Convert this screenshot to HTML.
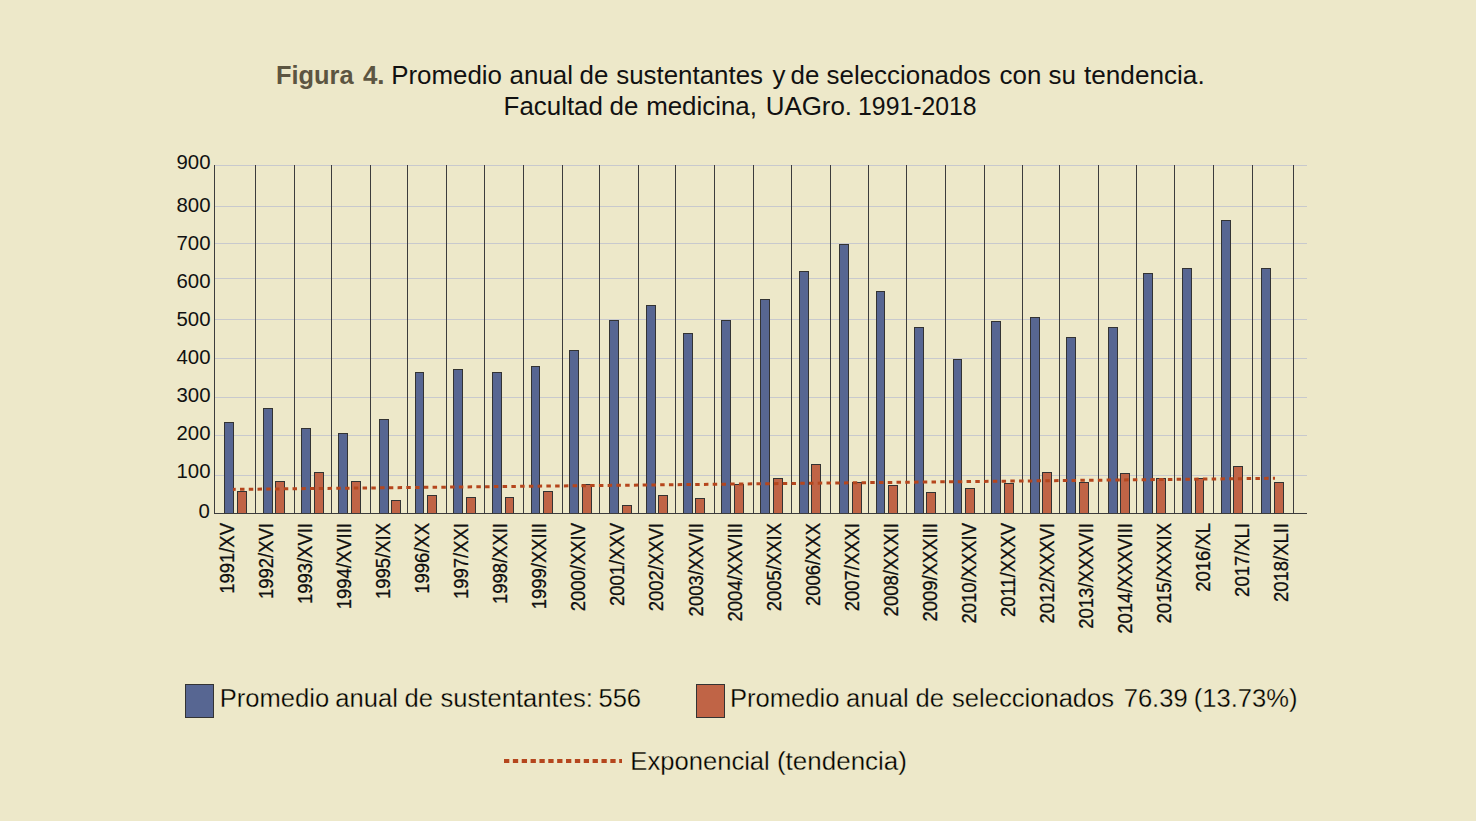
<!DOCTYPE html><html><head><meta charset="utf-8"><style>
html,body{margin:0;padding:0;}
body{width:1476px;height:821px;background:#ede8c9;position:relative;overflow:hidden;font-family:"Liberation Sans",sans-serif;color:#111111;}
.t{position:absolute;white-space:nowrap;}
.tt{position:absolute;font-size:25.9px;line-height:30px;white-space:nowrap;}
.yl{position:absolute;right:1265.95px;font-size:19.5px;line-height:20px;text-align:right;white-space:nowrap;transform:scaleX(1.045);transform-origin:100% 50%;}
.xl{position:absolute;font-size:18.1px;line-height:20px;white-space:nowrap;transform-origin:0 0;width:150px;text-align:right;transform:rotate(-90deg) scale(1.02,1.08);-webkit-text-stroke:0.25px #000;}
.lg{position:absolute;color:#000;font-size:25.6px;line-height:30px;white-space:nowrap;-webkit-text-stroke:0.3px #ede8c9;paint-order:fill stroke;}

</style></head><body>
<svg width="1476" height="821" viewBox="0 0 1476 821" style="position:absolute;left:0;top:0" shape-rendering="crispEdges"><line x1="214" y1="165.5" x2="1307" y2="165.5" stroke="#c8c9cd" stroke-width="1"/><line x1="214" y1="206.5" x2="1307" y2="206.5" stroke="#c8c9cd" stroke-width="1"/><line x1="214" y1="243.5" x2="1307" y2="243.5" stroke="#c8c9cd" stroke-width="1"/><line x1="214" y1="278.5" x2="1307" y2="278.5" stroke="#c8c9cd" stroke-width="1"/><line x1="214" y1="319.5" x2="1307" y2="319.5" stroke="#c8c9cd" stroke-width="1"/><line x1="214" y1="358.5" x2="1307" y2="358.5" stroke="#c8c9cd" stroke-width="1"/><line x1="214" y1="397.5" x2="1307" y2="397.5" stroke="#c8c9cd" stroke-width="1"/><line x1="214" y1="435.5" x2="1307" y2="435.5" stroke="#c8c9cd" stroke-width="1"/><line x1="214" y1="475.5" x2="1307" y2="475.5" stroke="#c8c9cd" stroke-width="1"/><line x1="214.5" y1="165" x2="214.5" y2="513" stroke="#3c3c3c" stroke-width="1"/><line x1="255.5" y1="165" x2="255.5" y2="513" stroke="#3c3c3c" stroke-width="1"/><line x1="294.5" y1="165" x2="294.5" y2="513" stroke="#3c3c3c" stroke-width="1"/><line x1="331.5" y1="165" x2="331.5" y2="513" stroke="#3c3c3c" stroke-width="1"/><line x1="370.5" y1="165" x2="370.5" y2="513" stroke="#3c3c3c" stroke-width="1"/><line x1="407.5" y1="165" x2="407.5" y2="513" stroke="#3c3c3c" stroke-width="1"/><line x1="446.5" y1="165" x2="446.5" y2="513" stroke="#3c3c3c" stroke-width="1"/><line x1="484.5" y1="165" x2="484.5" y2="513" stroke="#3c3c3c" stroke-width="1"/><line x1="523.5" y1="165" x2="523.5" y2="513" stroke="#3c3c3c" stroke-width="1"/><line x1="562.5" y1="165" x2="562.5" y2="513" stroke="#3c3c3c" stroke-width="1"/><line x1="599.5" y1="165" x2="599.5" y2="513" stroke="#3c3c3c" stroke-width="1"/><line x1="638.5" y1="165" x2="638.5" y2="513" stroke="#3c3c3c" stroke-width="1"/><line x1="675.5" y1="165" x2="675.5" y2="513" stroke="#3c3c3c" stroke-width="1"/><line x1="714.5" y1="165" x2="714.5" y2="513" stroke="#3c3c3c" stroke-width="1"/><line x1="753.5" y1="165" x2="753.5" y2="513" stroke="#3c3c3c" stroke-width="1"/><line x1="791.5" y1="165" x2="791.5" y2="513" stroke="#3c3c3c" stroke-width="1"/><line x1="830.5" y1="165" x2="830.5" y2="513" stroke="#3c3c3c" stroke-width="1"/><line x1="868.5" y1="165" x2="868.5" y2="513" stroke="#3c3c3c" stroke-width="1"/><line x1="906.5" y1="165" x2="906.5" y2="513" stroke="#3c3c3c" stroke-width="1"/><line x1="945.5" y1="165" x2="945.5" y2="513" stroke="#3c3c3c" stroke-width="1"/><line x1="984.5" y1="165" x2="984.5" y2="513" stroke="#3c3c3c" stroke-width="1"/><line x1="1022.5" y1="165" x2="1022.5" y2="513" stroke="#3c3c3c" stroke-width="1"/><line x1="1059.5" y1="165" x2="1059.5" y2="513" stroke="#3c3c3c" stroke-width="1"/><line x1="1098.5" y1="165" x2="1098.5" y2="513" stroke="#3c3c3c" stroke-width="1"/><line x1="1136.5" y1="165" x2="1136.5" y2="513" stroke="#3c3c3c" stroke-width="1"/><line x1="1174.5" y1="165" x2="1174.5" y2="513" stroke="#3c3c3c" stroke-width="1"/><line x1="1213.5" y1="165" x2="1213.5" y2="513" stroke="#3c3c3c" stroke-width="1"/><line x1="1252.5" y1="165" x2="1252.5" y2="513" stroke="#3c3c3c" stroke-width="1"/><line x1="1293.5" y1="165" x2="1293.5" y2="513" stroke="#3c3c3c" stroke-width="1"/><rect x="224.5" y="422.5" width="9" height="91" fill="#576692" stroke="#333333" stroke-width="1"/><rect x="263.5" y="408.5" width="9" height="105" fill="#576692" stroke="#333333" stroke-width="1"/><rect x="301.5" y="428.5" width="9" height="85" fill="#576692" stroke="#333333" stroke-width="1"/><rect x="338.5" y="433.5" width="9" height="80" fill="#576692" stroke="#333333" stroke-width="1"/><rect x="379.5" y="419.5" width="9" height="94" fill="#576692" stroke="#333333" stroke-width="1"/><rect x="415.5" y="372.5" width="8" height="141" fill="#576692" stroke="#333333" stroke-width="1"/><rect x="453.5" y="369.5" width="9" height="144" fill="#576692" stroke="#333333" stroke-width="1"/><rect x="492.5" y="372.5" width="9" height="141" fill="#576692" stroke="#333333" stroke-width="1"/><rect x="531.5" y="366.5" width="8" height="147" fill="#576692" stroke="#333333" stroke-width="1"/><rect x="569.5" y="350.5" width="9" height="163" fill="#576692" stroke="#333333" stroke-width="1"/><rect x="609.5" y="320.5" width="9" height="193" fill="#576692" stroke="#333333" stroke-width="1"/><rect x="646.5" y="305.5" width="9" height="208" fill="#576692" stroke="#333333" stroke-width="1"/><rect x="683.5" y="333.5" width="9" height="180" fill="#576692" stroke="#333333" stroke-width="1"/><rect x="721.5" y="320.5" width="9" height="193" fill="#576692" stroke="#333333" stroke-width="1"/><rect x="760.5" y="299.5" width="9" height="214" fill="#576692" stroke="#333333" stroke-width="1"/><rect x="799.5" y="271.5" width="9" height="242" fill="#576692" stroke="#333333" stroke-width="1"/><rect x="839.5" y="244.5" width="9" height="269" fill="#576692" stroke="#333333" stroke-width="1"/><rect x="876.5" y="291.5" width="8" height="222" fill="#576692" stroke="#333333" stroke-width="1"/><rect x="914.5" y="327.5" width="9" height="186" fill="#576692" stroke="#333333" stroke-width="1"/><rect x="953.5" y="359.5" width="8" height="154" fill="#576692" stroke="#333333" stroke-width="1"/><rect x="991.5" y="321.5" width="9" height="192" fill="#576692" stroke="#333333" stroke-width="1"/><rect x="1030.5" y="317.5" width="9" height="196" fill="#576692" stroke="#333333" stroke-width="1"/><rect x="1066.5" y="337.5" width="9" height="176" fill="#576692" stroke="#333333" stroke-width="1"/><rect x="1108.5" y="327.5" width="9" height="186" fill="#576692" stroke="#333333" stroke-width="1"/><rect x="1143.5" y="273.5" width="9" height="240" fill="#576692" stroke="#333333" stroke-width="1"/><rect x="1182.5" y="268.5" width="9" height="245" fill="#576692" stroke="#333333" stroke-width="1"/><rect x="1221.5" y="220.5" width="9" height="293" fill="#576692" stroke="#333333" stroke-width="1"/><rect x="1261.5" y="268.5" width="9" height="245" fill="#576692" stroke="#333333" stroke-width="1"/><rect x="237.5" y="491.5" width="9" height="22" fill="#c06446" stroke="#333333" stroke-width="1"/><rect x="275.5" y="481.5" width="9" height="32" fill="#c06446" stroke="#333333" stroke-width="1"/><rect x="314.5" y="472.5" width="9" height="41" fill="#c06446" stroke="#333333" stroke-width="1"/><rect x="351.5" y="481.5" width="9" height="32" fill="#c06446" stroke="#333333" stroke-width="1"/><rect x="391.5" y="500.5" width="9" height="13" fill="#c06446" stroke="#333333" stroke-width="1"/><rect x="427.5" y="495.5" width="9" height="18" fill="#c06446" stroke="#333333" stroke-width="1"/><rect x="466.5" y="497.5" width="9" height="16" fill="#c06446" stroke="#333333" stroke-width="1"/><rect x="505.5" y="497.5" width="8" height="16" fill="#c06446" stroke="#333333" stroke-width="1"/><rect x="543.5" y="491.5" width="9" height="22" fill="#c06446" stroke="#333333" stroke-width="1"/><rect x="582.5" y="484.5" width="9" height="29" fill="#c06446" stroke="#333333" stroke-width="1"/><rect x="622.5" y="505.5" width="9" height="8" fill="#c06446" stroke="#333333" stroke-width="1"/><rect x="658.5" y="495.5" width="9" height="18" fill="#c06446" stroke="#333333" stroke-width="1"/><rect x="695.5" y="498.5" width="9" height="15" fill="#c06446" stroke="#333333" stroke-width="1"/><rect x="734.5" y="484.5" width="9" height="29" fill="#c06446" stroke="#333333" stroke-width="1"/><rect x="773.5" y="478.5" width="9" height="35" fill="#c06446" stroke="#333333" stroke-width="1"/><rect x="811.5" y="464.5" width="9" height="49" fill="#c06446" stroke="#333333" stroke-width="1"/><rect x="852.5" y="482.5" width="9" height="31" fill="#c06446" stroke="#333333" stroke-width="1"/><rect x="888.5" y="485.5" width="9" height="28" fill="#c06446" stroke="#333333" stroke-width="1"/><rect x="926.5" y="492.5" width="9" height="21" fill="#c06446" stroke="#333333" stroke-width="1"/><rect x="965.5" y="488.5" width="9" height="25" fill="#c06446" stroke="#333333" stroke-width="1"/><rect x="1004.5" y="483.5" width="9" height="30" fill="#c06446" stroke="#333333" stroke-width="1"/><rect x="1042.5" y="472.5" width="9" height="41" fill="#c06446" stroke="#333333" stroke-width="1"/><rect x="1079.5" y="482.5" width="9" height="31" fill="#c06446" stroke="#333333" stroke-width="1"/><rect x="1120.5" y="473.5" width="9" height="40" fill="#c06446" stroke="#333333" stroke-width="1"/><rect x="1156.5" y="478.5" width="9" height="35" fill="#c06446" stroke="#333333" stroke-width="1"/><rect x="1195.5" y="478.5" width="8" height="35" fill="#c06446" stroke="#333333" stroke-width="1"/><rect x="1233.5" y="466.5" width="9" height="47" fill="#c06446" stroke="#333333" stroke-width="1"/><rect x="1274.5" y="482.5" width="9" height="31" fill="#c06446" stroke="#333333" stroke-width="1"/><line x1="214" y1="513.5" x2="1307" y2="513.5" stroke="#3c3c3c" stroke-width="1"/><line x1="233" y1="489.4" x2="1275" y2="478.3" stroke="#b5461d" stroke-width="3" stroke-dasharray="4.5 4.254" stroke-dashoffset="1.75" shape-rendering="auto"/><rect x="185.5" y="684.5" width="28" height="33" fill="#576692" stroke="#333333" stroke-width="1"/><rect x="696.5" y="684.5" width="28" height="33" fill="#c06446" stroke="#333333" stroke-width="1"/><line x1="504" y1="761" x2="622" y2="761" stroke="#b5461d" stroke-width="4" stroke-dasharray="5.3 3.56" shape-rendering="auto"/></svg>
<div class="tt w" id="t1_0" style="left:275.74px;top:60px;font-weight:bold;color:#5c5541;transform:scaleX(0.98);transform-origin:1.86px 50%">Figura</div>
<div class="tt w" id="t1_1" style="left:362.92px;top:60px;font-weight:bold;color:#5c5541">4.</div>
<div class="tt w" id="t1_2" style="left:391.21px;top:60px">Promedio</div>
<div class="tt w" id="t1_3" style="left:509.61px;top:60px">anual</div>
<div class="tt w" id="t1_4" style="left:579.62px;top:60px">de</div>
<div class="tt w" id="t1_5" style="left:616.24px;top:60px">sustentantes</div>
<div class="tt w" id="t1_6" style="left:772.51px;top:60px">y</div>
<div class="tt w" id="t1_7" style="left:790.62px;top:60px">de</div>
<div class="tt w" id="t1_8" style="left:826.62px;top:60px">seleccionados</div>
<div class="tt w" id="t1_9" style="left:999.61px;top:60px">con</div>
<div class="tt w" id="t1_10" style="left:1048.62px;top:60px">su</div>
<div class="tt w" id="t1_11" style="left:1084.01px;top:60px;transform:scaleX(1.01);transform-origin:0.29px 50%">tendencia.</div>
<div class="tt w" id="t2_0" style="left:503.61px;top:91px">Facultad</div>
<div class="tt w" id="t2_1" style="left:609.62px;top:91px">de</div>
<div class="tt w" id="t2_2" style="left:646.13px;top:91px">medicina,</div>
<div class="tt w" id="t2_3" style="left:765.73px;top:91px">UAGro.</div>
<div class="tt w" id="t2_4" style="left:857.70px;top:91px;transform:scaleX(0.957);transform-origin:2.20px 50%">1991-2018</div>
<div class="lg w" id="l1_0" style="left:219.73px;top:683px">Promedio</div>
<div class="lg w" id="l1_1" style="left:335.33px;top:683px">anual</div>
<div class="lg w" id="l1_2" style="left:404.53px;top:683px">de</div>
<div class="lg w" id="l1_3" style="left:440.55px;top:683px">sustentantes:</div>
<div class="lg w" id="l1_4" style="left:598.42px;top:683px">556</div>
<div class="lg w" id="l2_0" style="left:729.94px;top:683px">Promedio</div>
<div class="lg w" id="l2_1" style="left:846.12px;top:683px">anual</div>
<div class="lg w" id="l2_2" style="left:915.53px;top:683px">de</div>
<div class="lg w" id="l2_3" style="left:951.95px;top:683px">seleccionados</div>
<div class="lg w" id="l2_4" style="left:1123.66px;top:683px">76.39</div>
<div class="lg w" id="l2_5" style="left:1193.72px;top:683px">(13.73%)</div>
<div class="lg w" id="l3_0" style="left:630.35px;top:746px">Exponencial</div>
<div class="lg w" id="l3_1" style="left:777.15px;top:746px;transform:scaleX(1.015);transform-origin:1.75px 50%">(tendencia)</div>
<div class="yl" style="top:152.4px">900</div>
<div class="yl" style="top:195.1px">800</div>
<div class="yl" style="top:233.0px">700</div>
<div class="yl" style="top:271.2px">600</div>
<div class="yl" style="top:309.0px">500</div>
<div class="yl" style="top:347.1px">400</div>
<div class="yl" style="top:385.2px">300</div>
<div class="yl" style="top:423.0px">200</div>
<div class="yl" style="top:461.4px">100</div>
<div class="yl" style="top:500.8px">0</div>
<div class="xl" style="left:217.05px;top:675.5px">1991/XV</div>
<div class="xl" style="left:256.09px;top:675.5px">1992/XVI</div>
<div class="xl" style="left:295.13px;top:675.5px">1993/XVII</div>
<div class="xl" style="left:334.17px;top:675.5px">1994/XVIII</div>
<div class="xl" style="left:373.21px;top:675.5px">1995/XIX</div>
<div class="xl" style="left:412.25px;top:675.5px">1996/XX</div>
<div class="xl" style="left:451.29px;top:675.5px">1997/XXI</div>
<div class="xl" style="left:490.33px;top:675.5px">1998/XXII</div>
<div class="xl" style="left:529.37px;top:675.5px">1999/XXIII</div>
<div class="xl" style="left:568.41px;top:675.5px">2000/XXIV</div>
<div class="xl" style="left:607.45px;top:675.5px">2001/XXV</div>
<div class="xl" style="left:646.49px;top:675.5px">2002/XXVI</div>
<div class="xl" style="left:685.53px;top:675.5px">2003/XXVII</div>
<div class="xl" style="left:724.57px;top:675.5px">2004/XXVIII</div>
<div class="xl" style="left:763.61px;top:675.5px">2005/XXIX</div>
<div class="xl" style="left:802.65px;top:675.5px">2006/XXX</div>
<div class="xl" style="left:841.69px;top:675.5px">2007/XXXI</div>
<div class="xl" style="left:880.73px;top:675.5px">2008/XXXII</div>
<div class="xl" style="left:919.77px;top:675.5px">2009/XXXIII</div>
<div class="xl" style="left:958.81px;top:675.5px">2010/XXXIV</div>
<div class="xl" style="left:997.85px;top:675.5px">2011/XXXV</div>
<div class="xl" style="left:1036.89px;top:675.5px">2012/XXXVI</div>
<div class="xl" style="left:1075.93px;top:675.5px">2013/XXXVII</div>
<div class="xl" style="left:1114.97px;top:675.5px">2014/XXXVIII</div>
<div class="xl" style="left:1154.01px;top:675.5px">2015/XXXIX</div>
<div class="xl" style="left:1193.05px;top:675.5px">2016/XL</div>
<div class="xl" style="left:1232.09px;top:675.5px">2017/XLI</div>
<div class="xl" style="left:1271.13px;top:675.5px">2018/XLII</div>
</body></html>
